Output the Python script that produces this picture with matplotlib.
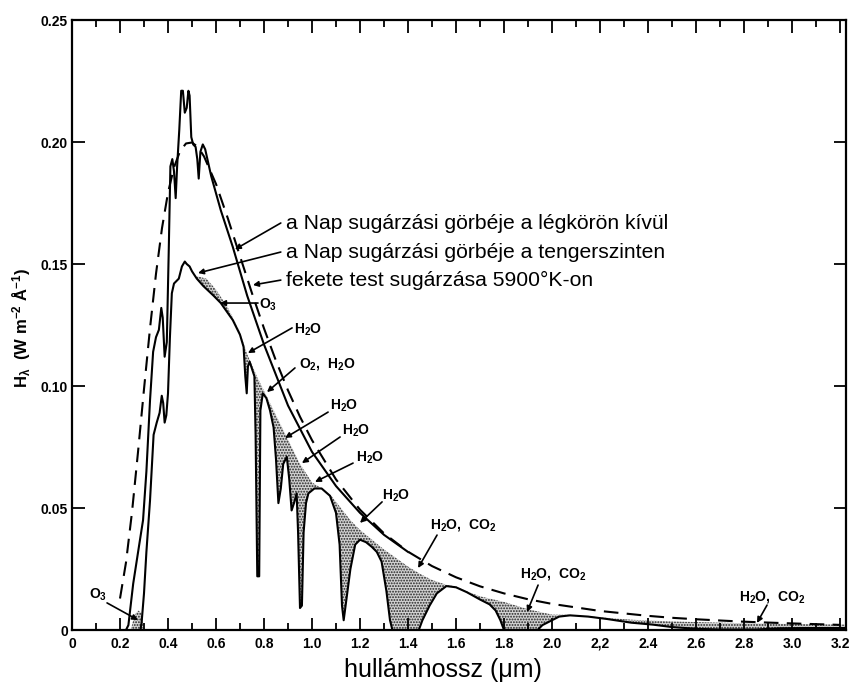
import numpy as np
import matplotlib
matplotlib.use('Agg')
import matplotlib.pyplot as plt

plt.rcParams['font.family'] = ['Liberation Sans', 'DejaVu Sans']
plt.rcParams['mathtext.default'] = 'regular'
plt.rcParams['hatch.linewidth'] = 0.9

# ---- data (wavelength in micrometres, irradiance in W m^-2 A^-1) ----
bb_x = [0.20, 0.225, 0.25, 0.275, 0.30, 0.325, 0.35, 0.375, 0.40, 0.425, 0.45, 0.475,
        0.50, 0.525, 0.55, 0.60, 0.65, 0.70, 0.75, 0.80, 0.85, 0.90, 0.95, 1.00, 1.10,
        1.20, 1.30, 1.40, 1.50, 1.60, 1.70, 1.80, 1.90, 2.00, 2.20, 2.40, 2.50, 2.60,
        2.80, 3.00, 3.20]
bb_y = [0.0129, 0.0277, 0.0483, 0.0729, 0.0987, 0.1236, 0.1460, 0.1647, 0.1792, 0.1896,
        0.1962, 0.1994, 0.1998, 0.1979, 0.1941, 0.1828, 0.1685, 0.1532, 0.1380, 0.1236,
        0.1103, 0.0982, 0.0874, 0.0778, 0.0617, 0.0493, 0.0396, 0.0321, 0.0262, 0.0216,
        0.0179, 0.0150, 0.0126, 0.0107, 0.0078, 0.0058, 0.0050, 0.0044, 0.0034, 0.0027,
        0.0021]

out_x = [0.225, 0.235, 0.255, 0.277, 0.296, 0.31, 0.325, 0.338, 0.35, 0.362, 0.372, 0.378,
         0.386, 0.395, 0.403, 0.41, 0.418, 0.425, 0.432, 0.438, 0.447, 0.455, 0.462, 0.47,
         0.478, 0.485, 0.49, 0.497, 0.505, 0.515, 0.522, 0.528, 0.535, 0.545, 0.555, 0.58,
         0.62, 0.67, 0.73, 0.80, 0.90, 1.00, 1.10, 1.20, 1.30, 1.40]
out_y = [0.0, 0.002, 0.019, 0.033, 0.045, 0.065, 0.094, 0.114, 0.120, 0.123, 0.132, 0.128,
         0.112, 0.118, 0.155, 0.190, 0.193, 0.188, 0.177, 0.190, 0.205, 0.221, 0.221, 0.212,
         0.214, 0.221, 0.219, 0.202, 0.199, 0.198, 0.193, 0.185, 0.196, 0.199, 0.197, 0.186,
         0.172, 0.157, 0.137, 0.117, 0.092, 0.073, 0.059, 0.048, 0.039, 0.032]

sea_x = [0.285, 0.29, 0.30, 0.31, 0.325, 0.34, 0.353, 0.365, 0.374, 0.38, 0.386, 0.393,
         0.40, 0.408, 0.416, 0.425, 0.435, 0.445, 0.458, 0.47, 0.478, 0.49, 0.50, 0.52,
         0.547, 0.59, 0.62, 0.67, 0.70, 0.715, 0.722, 0.728, 0.733, 0.74, 0.75, 0.76,
         0.765, 0.772, 0.78, 0.785, 0.795, 0.81, 0.825, 0.84, 0.85, 0.86, 0.87, 0.88,
         0.895, 0.905, 0.915, 0.925, 0.936, 0.942, 0.95, 0.958, 0.965, 0.975, 0.985, 1.01,
         1.04, 1.075, 1.10, 1.115, 1.125, 1.132, 1.14, 1.16, 1.18, 1.20, 1.225, 1.25,
         1.27, 1.29, 1.31, 1.325, 1.335, 1.445, 1.46, 1.49, 1.52, 1.56, 1.60, 1.645,
         1.70, 1.74, 1.765, 1.785, 1.80, 1.94, 1.96, 2.00, 2.03, 2.075, 2.15, 2.23,
         2.33, 2.42, 2.50, 2.60, 2.70, 2.85, 2.95, 3.05, 3.22]
sea_y = [0.0, 0.003, 0.015, 0.032, 0.053, 0.080, 0.085, 0.089, 0.096, 0.093, 0.085, 0.088,
         0.097, 0.120, 0.138, 0.142, 0.143, 0.144, 0.149, 0.151, 0.150, 0.149, 0.147, 0.144,
         0.141, 0.137, 0.134, 0.127, 0.121, 0.116, 0.104, 0.097, 0.108, 0.110, 0.107, 0.104,
         0.080, 0.022, 0.022, 0.090, 0.097, 0.095, 0.090, 0.083, 0.070, 0.052, 0.058, 0.068,
         0.071, 0.062, 0.049, 0.052, 0.056, 0.040, 0.009, 0.010, 0.040, 0.052, 0.056, 0.058,
         0.058, 0.055, 0.048, 0.035, 0.010, 0.004, 0.010, 0.025, 0.035, 0.037, 0.036, 0.034,
         0.032, 0.028, 0.016, 0.004, 0.0, 0.0, 0.004, 0.010, 0.015, 0.018, 0.0175, 0.0155,
         0.0125, 0.0105, 0.008, 0.004, 0.0, 0.0, 0.002, 0.004, 0.0055, 0.006, 0.0055, 0.0045,
         0.003, 0.0022, 0.0012, 0.0005, 0.0002, 0.0002, 0.0007, 0.0008, 0.0008]

# smooth sea-level envelope (top of the stippled absorption areas)
env_x = [0.52, 0.56, 0.60, 0.65, 0.70, 0.73, 0.77, 0.81, 0.85, 0.895, 0.95, 1.00, 1.04,
         1.08, 1.12, 1.16, 1.20, 1.25, 1.30, 1.35, 1.40, 1.45, 1.50, 1.56, 1.60, 1.645,
         1.70, 1.80, 1.90, 2.00, 2.075, 2.20, 2.33, 2.50, 2.70, 2.90, 3.22]
env_y = [0.145, 0.144, 0.1395, 0.132, 0.122, 0.113, 0.104, 0.096, 0.088, 0.079, 0.068,
         0.0605, 0.058, 0.055, 0.050, 0.045, 0.041, 0.037, 0.033, 0.0295, 0.026, 0.023,
         0.0205, 0.0185, 0.0178, 0.0158, 0.0138, 0.0115, 0.0085, 0.0063, 0.0062, 0.0052,
         0.0042, 0.0035, 0.0030, 0.0026, 0.0022]

# small ozone absorption area in the UV
o3_x = [0.245, 0.26, 0.275, 0.29, 0.30, 0.29, 0.275, 0.26]
o3_y = [0.0, 0.006, 0.008, 0.007, 0.0, 0.0, 0.0, 0.0]

xtick_vals = [0, 0.2, 0.4, 0.6, 0.8, 1.0, 1.2, 1.4, 1.6, 1.8, 2.0, 2.2, 2.4, 2.6, 2.8, 3.0, 3.2]
xtick_labels = ['0', '0.2', '0.4', '0.6', '0.8', '1.0', '1.2', '1.4', '1.6', '1.8', '2.0',
                '2,2', '2.4', '2.6', '2.8', '3.0', '3.2']
ytick_vals = [0, 0.05, 0.10, 0.15, 0.20, 0.25]
ytick_labels = ['0', '0.05', '0.10', '0.15', '0.20', '0.25']

legend_texts = ['a Nap sugárzási görbéje a légkörön kívül',
                'a Nap sugárzási görbéje a tengerszinten',
                'fekete test sugárzása 5900°K-on']

# label, label position, arrow tail, arrow tip
species = [
    ('O$_3$',         (0.817, 0.1332), (0.775, 0.134), (0.617, 0.134)),
    ('H$_2$O',        (0.983, 0.1230), (0.917, 0.1238), (0.733, 0.1135)),
    ('O$_2$,  H$_2$O', (1.0625, 0.1090), (0.929, 0.1074), (0.8125, 0.0975)),
    ('H$_2$O',        (1.133, 0.0918), (1.067, 0.0893), (0.8875, 0.0787)),
    ('H$_2$O',        (1.183, 0.0816), (1.117, 0.0791), (0.958, 0.0684)),
    ('H$_2$O',        (1.242, 0.0705), (1.171, 0.0684), (1.0125, 0.0607)),
    ('H$_2$O',        (1.350, 0.0549), (1.292, 0.0525), (1.200, 0.0439)),
    ('H$_2$O,  CO$_2$', (1.629, 0.0430), (1.521, 0.0389), (1.442, 0.0254)),
    ('H$_2$O,  CO$_2$', (2.004, 0.0230), (1.942, 0.0184), (1.896, 0.0074)),
    ('H$_2$O,  CO$_2$', (2.917, 0.0135), (2.896, 0.0102), (2.854, 0.0029)),
    ('O$_3$',         (0.108, 0.0143), (0.146, 0.0111), (0.275, 0.0041)),
]

fig = plt.figure(figsize=(8.5, 6.88), dpi=100)
ax = fig.add_axes([72/850, 58/688, 774/850, 610/688])

# stippled absorption areas
poly_x = list(env_x) + [x for x in sea_x[::-1] if x >= env_x[0]]
poly_y = list(env_y) + [y for x, y in zip(sea_x[::-1], sea_y[::-1]) if x >= env_x[0]]
ax.fill(poly_x, poly_y, facecolor='#d2d2d2', edgecolor='#222222', linewidth=0,
        hatch='......', zorder=1)
ax.fill(o3_x, o3_y, facecolor='#d2d2d2', edgecolor='#222222', linewidth=0,
        hatch='......', zorder=1)

ax.plot(bb_x, bb_y, color='black', lw=1.5, ls=(0, (7, 4)), zorder=3)
ax.plot(out_x, out_y, color='black', lw=1.5, zorder=3)
ax.plot(sea_x, sea_y, color='black', lw=1.5, zorder=3)

ax.set_xlim(0, 3.225)
ax.set_ylim(0, 0.25)

arrow_kw = dict(arrowstyle='-|>', lw=1.2, color='black', mutation_scale=8,
                shrinkA=0, shrinkB=0)

# legend-like captions with arrows
leg_y = [0.1668, 0.1549, 0.1434]
leg_tips = [(0.679, 0.156), (0.525, 0.1463), (0.754, 0.1414)]
for txt, yy, tip in zip(legend_texts, leg_y, leg_tips):
    ax.text(0.892, yy, txt, fontsize=15.2, ha='left', va='center', zorder=5)
    ax.annotate('', xy=tip, xytext=(0.870, yy), arrowprops=arrow_kw, zorder=5)

for lab, pos, tail, tip in species:
    ax.text(pos[0], pos[1], lab, fontsize=10, fontweight='bold', ha='center',
            va='center', zorder=5)
    ax.annotate('', xy=tip, xytext=tail, arrowprops=arrow_kw, zorder=5)

ax.set_xticks(xtick_vals)
ax.set_xticklabels(xtick_labels)
ax.set_xticks(np.arange(0.1, 3.21, 0.2), minor=True)
ax.set_yticks(ytick_vals)
ax.set_yticklabels(ytick_labels)
ax.tick_params(which='both', direction='in', top=True, right=True, width=1.3)
ax.tick_params(which='major', length=9, labelsize=10, pad=5)
ax.tick_params(which='minor', length=5)
ax.tick_params(axis='y', pad=3)
for lab in ax.get_xticklabels() + ax.get_yticklabels():
    lab.set_fontweight('bold')
for sp in ax.spines.values():
    sp.set_linewidth(1.6)

fig.text(22/850, 1 - 328/688, r'H$_\lambda$  (W m$^{-2}$ Å$^{-1}$)', rotation=90,
         ha='center', va='center', fontsize=12, fontweight='bold')
fig.text(443/850, 1 - 670/688, 'hullámhossz (μm)', ha='center', va='center', fontsize=18)

fig.savefig('out.png', dpi=100, facecolor='white')
